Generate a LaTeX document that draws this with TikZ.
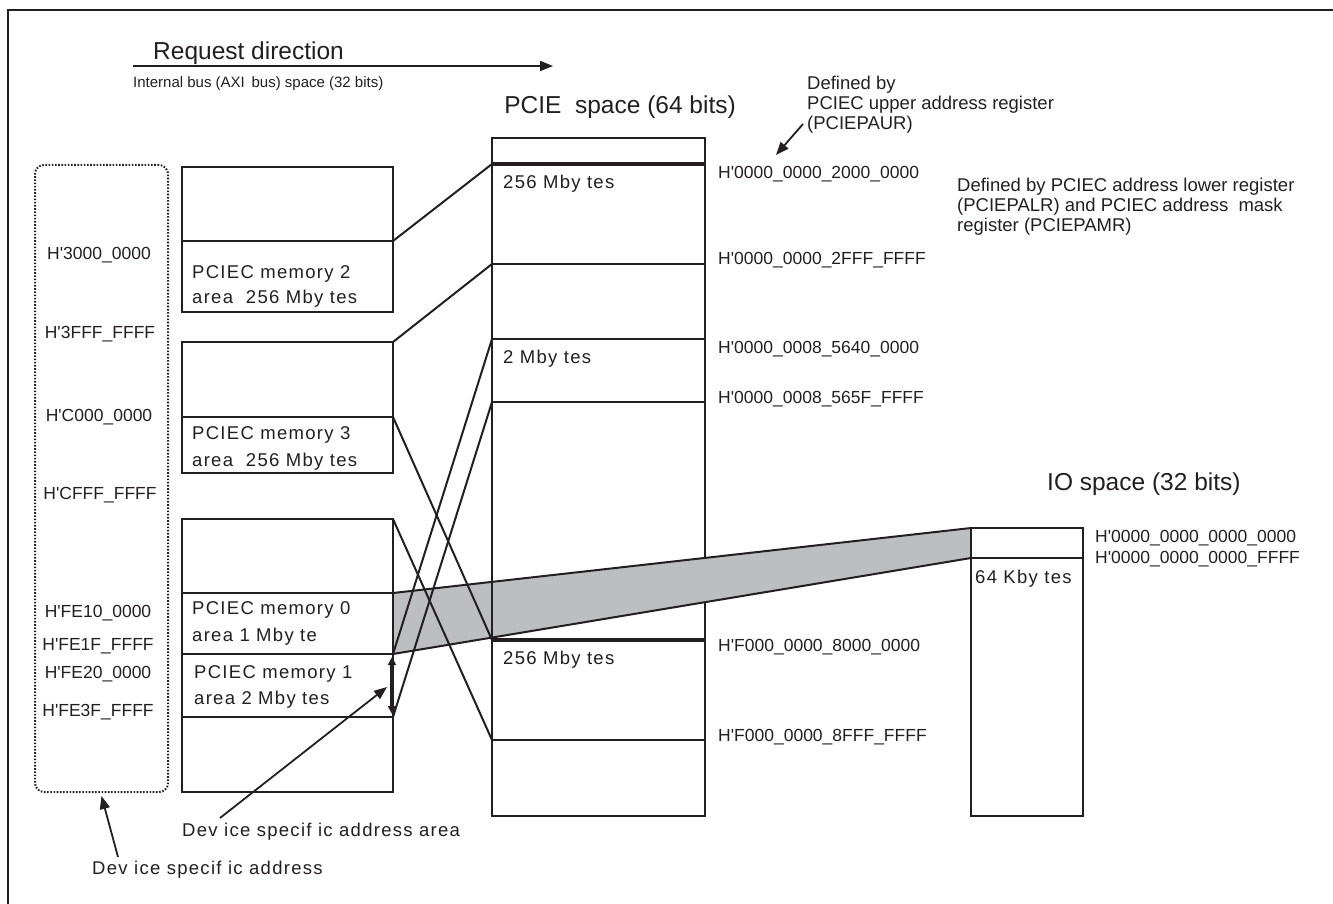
\documentclass[tikz,border=0pt]{standalone}
\usepackage{fontspec}
\setmainfont{Liberation Sans}
\newfontfamily\trkfont{Liberation Sans}[LetterSpace=7]
\usetikzlibrary{arrows.meta}
\definecolor{ink}{HTML}{231F20}
\definecolor{bandgray}{HTML}{BCBEC0}
\newcommand{\Hq}{H\textquotesingle}
\begin{document}
\begin{tikzpicture}[x=1pt,y=-1pt,
  seg/.style={draw=ink, line width=2.2pt, inner sep=0pt, outer sep=0pt},
  lbl/.style={text=ink, inner sep=0pt, anchor=base west, font=\fontsize{17.5}{21}\selectfont},
  clbl/.style={lbl, anchor=base},
  trk/.style={lbl, font=\trkfont\fontsize{18.5}{22}\selectfont},
  note/.style={lbl, font=\fontsize{18.5}{22}\selectfont},
  head/.style={text=ink, inner sep=0pt, anchor=base west, font=\fontsize{24.5}{28}\selectfont},
  small/.style={lbl, font=\fontsize{15}{18}\selectfont},
  conn/.style={draw=ink, line width=2pt},
  pointer/.style={draw=ink, line width=1.8pt, -{Triangle[length=13pt,width=10pt]}},
  dbl/.style={draw=ink, line width=3.2pt, {Triangle[length=8pt,width=8pt]}-{Triangle[length=8pt,width=8pt]}},
  thick line/.style={draw=ink, line width=3.8pt}
]
\useasboundingbox (0,0) rectangle (1333,904);
% frame (cropped)
\draw[ink, line width=2.5pt] (1333,10) -- (8,10) -- (8,904);

% header
\node[head] (req) at (153,60) {Request direction};
\coordinate (rqA) at (133,66);
\coordinate (rqB) at (553,66);
\draw[pointer] (rqA) -- (rqB);
\node[small] (axi) at (133,88) {Internal bus (AXI\, bus) space (32 bits)};

% device specific address column
\node[seg, line width=2pt, dash pattern=on 1.6pt off 1.6pt, rounded corners=9pt, minimum width=133pt, minimum height=627pt] (dev) at (101.5,478.5) {};
\node[clbl] (a1) at (99,259.3) {\Hq 3000\_0000};
\node[clbl] (a2) at (100,338.3) {\Hq 3FFF\_FFFF};
\node[clbl] (a3) at (99,421.3) {\Hq C000\_0000};
\node[clbl] (a4) at (100,499.3) {\Hq CFFF\_FFFF};
\node[clbl] (a5) at (98,617.3) {\Hq FE10\_0000};
\node[clbl] (a6) at (98,650.3) {\Hq FE1F\_FFFF};
\node[clbl] (a7) at (98,678.3) {\Hq FE20\_0000};
\node[clbl] (a8) at (98,716.3) {\Hq FE3F\_FFFF};

% internal bus memory boxes
\node[seg, minimum width=211pt, minimum height=74pt] (m2top) at (287.5,204) {};
\node[seg, minimum width=211pt, minimum height=71pt] (m2) at (287.5,276.5) {};
\node[seg, minimum width=211pt, minimum height=75pt] (m3top) at (287.5,379.5) {};
\node[seg, minimum width=211pt, minimum height=56pt] (m3) at (287.5,445) {};
\node[seg, minimum width=211pt, minimum height=74pt] (g0top) at (287.5,556) {};
\node[seg, minimum width=211pt, minimum height=61pt] (m0) at (287.5,623.5) {};
\node[seg, minimum width=211pt, minimum height=63pt] (m1) at (287.5,685.5) {};
\node[seg, minimum width=211pt, minimum height=75pt] (g1bot) at (287.5,754.5) {};

\node[trk] (t2a) at (192,278.5) {PCIEC memory 2};
\node[trk] (t2b) at (192,303.5) {area\ \ 256 Mby tes};
\node[trk] (t3a) at (192,439.5) {PCIEC memory 3};
\node[trk] (t3b) at (192,466.5) {area\ \ 256 Mby tes};
\node[trk] (t0a) at (192,614.5) {PCIEC memory 0};
\node[trk] (t0b) at (192,641.5) {area 1 Mby te};
\node[trk] (t1a) at (194,678.5) {PCIEC memory 1};
\node[trk] (t1b) at (194,704.5) {area 2 Mby tes};

% PCIE space
\node[head, anchor=base east] (pcieh) at (736,114) {PCIE\ \ space (64 bits)};
\node[seg, minimum width=213pt, minimum height=26pt] (p0) at (598.5,151) {};
\node[seg, minimum width=213pt, minimum height=100pt] (p1) at (598.5,214) {};
\node[seg, minimum width=213pt, minimum height=75pt] (p2) at (598.5,301.5) {};
\node[seg, minimum width=213pt, minimum height=63pt] (p3) at (598.5,370.5) {};
\node[seg, minimum width=213pt, minimum height=238pt] (p4) at (598.5,521) {};
\node[seg, minimum width=213pt, minimum height=100pt] (p5) at (598.5,690) {};
\node[seg, minimum width=213pt, minimum height=76pt] (p6) at (598.5,778) {};

% IO space
\node[head] (ioh) at (1047,490.6) {IO space (32 bits)};
\node[seg, minimum width=112pt, minimum height=30pt] (io0) at (1027,543) {};
\node[seg, minimum width=112pt, minimum height=258pt] (io1) at (1027,687) {};

% gray band
\fill[bandgray] (m0.north east) -- (io0.north west) -- (io0.south west) -- (m0.south east) -- cycle;
\draw[conn] (m0.north east) -- (io0.north west);
\draw[conn] (m0.south east) -- (io0.south west);
% redraw lines covered by band
\draw[seg] (p4.north west) -- (p4.south west);
\draw[seg] (m0.north east) -- (m0.south east);
\draw[seg] (io0.north west) -- (io0.south west);

% thick PCIE lines
\draw[thick line] (p1.north west) -- (p1.north east);
\draw[thick line] (p5.north west) -- (p5.north east);

\node[trk] (s1) at (503,188.5) {256 Mby tes};
\node[trk] (s2) at (503,363.5) {2 Mby tes};
\node[trk] (s3) at (503,664.5) {256 Mby tes};
\node[trk] (s4) at (975,583.5) {64 Kby tes};

% mapping connectors
\draw[conn] (m2.north east) -- (p1.north west);
\draw[conn] (m3top.north east) -- (p2.north west);
\draw[conn] (m3.north east) -- (p5.north west);
\draw[conn] (g0top.north east) -- (p6.north west);
\draw[conn] (m1.north east) -- (p3.north west);
\draw[conn] (m1.south east) -- (p4.north west);

% double arrow
\coordinate (dA) at (392,657);
\coordinate (dB) at (392,714);
\draw[dbl] (dA) -- (dB);

% PCIE addresses
\node[lbl] (x1) at (718,178.3) {\Hq 0000\_0000\_2000\_0000};
\node[lbl] (x2) at (718,264.3) {\Hq 0000\_0000\_2FFF\_FFFF};
\node[lbl] (x3) at (718,353.3) {\Hq 0000\_0008\_5640\_0000};
\node[lbl] (x4) at (718,403.3) {\Hq 0000\_0008\_565F\_FFFF};
\node[lbl] (x5) at (718,651.3) {\Hq F000\_0000\_8000\_0000};
\node[lbl] (x6) at (718,741.3) {\Hq F000\_0000\_8FFF\_FFFF};
\node[lbl] (y1) at (1095,542.3) {\Hq 0000\_0000\_0000\_0000};
\node[lbl] (y2) at (1095,563.3) {\Hq 0000\_0000\_0000\_FFFF};

% register notes
\node[note] (r1) at (807,90) {Defined by};
\node[note] (r2) at (807,110) {PCIEC upper address register};
\node[note] (r3) at (807,130) {(PCIEPAUR)};
\coordinate (pauT) at (803,124);
\coordinate (pauH) at (776,155);
\draw[pointer] (pauT) -- (pauH);

\node[note] (l1) at (957,191.5) {Defined by PCIEC address lower register};
\node[note] (l2) at (957,211.5) {(PCIEPALR) and PCIEC address\ \ mask};
\node[note] (l3) at (957,231.5) {register (PCIEPAMR)};

% device specific notes
\node[trk] (dsa) at (182,836.5) {Dev ice specif ic address area};
\coordinate (dsaT) at (220,818);
\coordinate (dsaH) at (387,687);
\draw[pointer] (dsaT) -- (dsaH);
\node[trk] (dsd) at (92,874.5) {Dev ice specif ic address};
\coordinate (dsdT) at (118,857);
\draw[pointer] (dsdT) -- ([yshift=-4pt]dev.south);
\end{tikzpicture}
\end{document}
